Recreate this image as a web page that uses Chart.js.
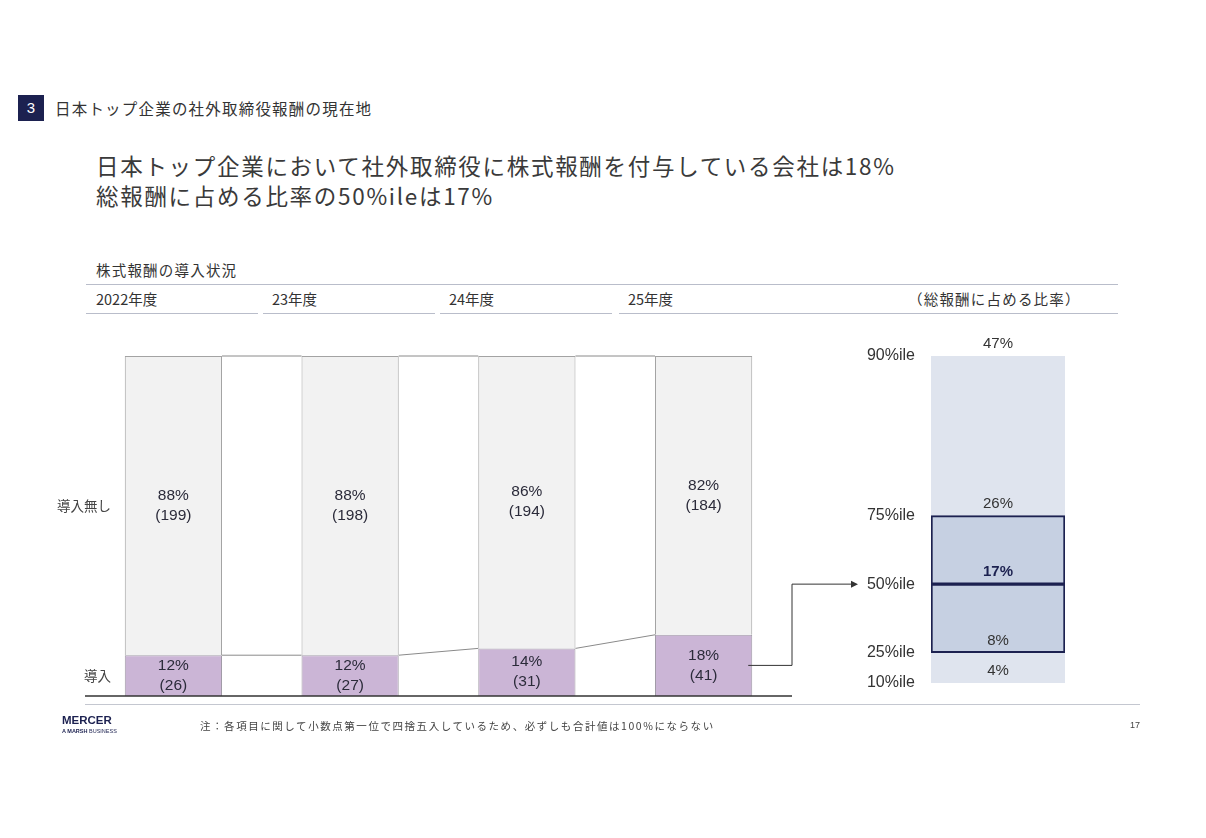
<!DOCTYPE html>
<html lang="ja">
<head>
<meta charset="utf-8">
<script src="https://cdn.jsdelivr.net/npm/chart.js@4.4.1/dist/chart.umd.min.js"></script>
<style>
  html, body { margin: 0; padding: 0; background: #fff; }
  #slide { position: relative; width: 1206px; height: 838px; overflow: hidden;
    font-family: "Noto Sans CJK JP", sans-serif; color: #333; }
  .t { position: absolute; white-space: nowrap; transform: translateY(-50%); }
  .rule { position: absolute; height: 1px; background: #b9bdca; }
  canvas { position: absolute; top: 330px; }
</style>
</head>
<body>
<div id="slide">
  <div style="position:absolute;left:18px;top:95px;width:26px;height:26px;background:#1c2150;color:#fff;
    font:15px 'Liberation Sans',sans-serif;text-align:center;line-height:26px;">3</div>
  <div class="t" style="left:55px;top:108px;font-size:15.5px;letter-spacing:1.2px;color:#333;">日本トップ企業の社外取締役報酬の現在地</div>

  <div class="t" style="left:96px;top:165px;font-size:22.5px;letter-spacing:1.7px;color:#3a3a3a;">日本トップ企業において社外取締役に株式報酬を付与している会社は18%</div>
  <div class="t" style="left:96px;top:195px;font-size:22.5px;letter-spacing:1.7px;color:#3a3a3a;">総報酬に占める比率の50%ileは17%</div>

  <div class="t" style="left:96px;top:269px;font-size:14.5px;letter-spacing:1.2px;">株式報酬の導入状況</div>
  <div class="rule" style="left:86px;top:284px;width:1032px;"></div>
  <div class="t" style="left:96px;top:298px;font-size:14.5px;">2022年度</div>
  <div class="t" style="left:272px;top:298px;font-size:14.5px;">23年度</div>
  <div class="t" style="left:449px;top:298px;font-size:14.5px;">24年度</div>
  <div class="t" style="left:628px;top:298px;font-size:14.5px;">25年度</div>
  <div class="t" style="left:908px;top:298px;font-size:14.5px;letter-spacing:1.2px;">（総報酬に占める比率）</div>
  <div class="rule" style="left:86px;top:313px;width:172px;"></div>
  <div class="rule" style="left:263px;top:313px;width:172px;"></div>
  <div class="rule" style="left:440px;top:313px;width:172px;"></div>
  <div class="rule" style="left:619px;top:313px;width:499px;"></div>

  <canvas id="adoption-chart" width="1206" height="400" style="left:0;"></canvas>
  <canvas id="ratio-chart" width="260" height="400" style="left:860px;"></canvas>

  <div class="rule" style="left:85px;top:704px;width:1055px;background:#c4c7d0;"></div>
  <div class="t" style="left:62px;top:720px;font:bold 11.5px 'Liberation Sans',sans-serif;color:#1c2150;">MERCER</div>
  <div class="t" style="left:62px;top:731px;font:5.5px 'Liberation Sans',sans-serif;color:#1c2150;"><b>A MARSH</b> BUSINESS</div>
  <div class="t" style="left:200px;top:725px;font-size:10.5px;letter-spacing:1.55px;color:#444;">注：各項目に関して小数点第一位で四捨五入しているため、必ずしも合計値は100%にならない</div>
  <div class="t" style="left:1130px;top:725px;font:9px 'Liberation Sans',sans-serif;color:#444;">17</div>
</div>

<script>
"use strict";

// 株式報酬の導入状況
const years = ["2022年度", "23年度", "24年度", "25年度"];
const adoptedPct = [12, 12, 14, 18];
const adoptedCount = [26, 27, 31, 41];
const notAdoptedPct = [88, 88, 86, 82];
const notAdoptedCount = [199, 198, 194, 184];

// 総報酬に占める比率
const pctileLabels = ["10%ile", "25%ile", "50%ile", "75%ile", "90%ile"];
const pctileValues = [4, 8, 17, 26, 47];

const NUM_FONT = "'Liberation Sans', Arial, sans-serif";
const JP_FONT = "'Noto Sans CJK JP', sans-serif";
const NAVY = "#1c2150";

// 比率チャートの数値ラベル
const ratioLabels = {
  id: "ratioLabels",
  afterDatasetsDraw(chart) {
    const ctx = chart.ctx;
    const y = chart.scales.y;
    const cx = (chart.chartArea.left + chart.chartArea.right) / 2;
    ctx.save();
    ctx.textAlign = "center";
    ctx.textBaseline = "middle";
    pctileValues.forEach(function (v, i) {
      const median = i === 2;
      ctx.font = (median ? "bold " : "") + "15px " + NUM_FONT;
      ctx.fillStyle = median ? NAVY : "#333";
      ctx.fillText(v + "%", cx, y.getPixelForValue(v) - 12);
    });
    ctx.restore();
  },
};

const ratioChart = new Chart(document.getElementById("ratio-chart"), {
  type: "bar",
  data: {
    labels: ["比率"],
    datasets: [
      {
        // 10%ile - 90%ile
        data: [[pctileValues[0], pctileValues[4]]],
        backgroundColor: "#dfe4ee",
        borderWidth: 0,
        order: 2,
      },
      {
        // 25%ile - 50%ile
        data: [[pctileValues[1], pctileValues[2]]],
        backgroundColor: "#c6d0e2",
        borderColor: NAVY,
        borderWidth: 2,
        borderSkipped: false,
        order: 1,
      },
      {
        // 50%ile - 75%ile
        data: [[pctileValues[2], pctileValues[3]]],
        backgroundColor: "#c6d0e2",
        borderColor: NAVY,
        borderWidth: 2,
        borderSkipped: false,
        order: 1,
      },
    ],
  },
  options: {
    responsive: false,
    animation: false,
    layout: { padding: { left: 1, right: 55, top: 26, bottom: 47 } },
    datasets: {
      bar: { grouped: false, barPercentage: 1, categoryPercentage: 1 },
    },
    scales: {
      x: { display: false },
      y: {
        min: pctileValues[0],
        max: pctileValues[4],
        grid: { display: false, drawTicks: false },
        border: { display: false },
        afterFit: function (scale) {
          scale.width = 70;
        },
        afterBuildTicks: function (scale) {
          scale.ticks = pctileValues.map(function (v) {
            return { value: v };
          });
        },
        ticks: {
          padding: 16,
          color: "#333",
          font: { family: NUM_FONT, size: 16 },
          callback: function (value) {
            return pctileLabels[pctileValues.indexOf(value)];
          },
        },
      },
    },
    plugins: {
      legend: { display: false },
      tooltip: { enabled: false },
    },
  },
  plugins: [ratioLabels],
});

// 棒グラフの連結線・ラベル・矢印
const adoptionDecor = {
  id: "adoptionDecor",
  afterDatasetsDraw(chart) {
    const ctx = chart.ctx;
    const area = chart.chartArea;
    const metas = [chart.getDatasetMeta(0), chart.getDatasetMeta(1)];
    ctx.save();

    // 連結線
    ctx.strokeStyle = "#8a8a8a";
    ctx.lineWidth = 1;
    metas.forEach(function (meta) {
      for (let i = 0; i < meta.data.length - 1; i++) {
        const a = meta.data[i];
        const b = meta.data[i + 1];
        ctx.beginPath();
        ctx.moveTo(a.x + a.width / 2, a.y);
        ctx.lineTo(b.x - b.width / 2, b.y);
        ctx.stroke();
      }
    });

    // ベースライン
    const y0 = chart.scales.y.getPixelForValue(0);
    ctx.strokeStyle = "#333";
    ctx.lineWidth = 1.5;
    ctx.beginPath();
    ctx.moveTo(area.left, y0);
    ctx.lineTo(area.right, y0);
    ctx.stroke();

    // 数値ラベル
    ctx.textAlign = "center";
    ctx.textBaseline = "middle";
    ctx.fillStyle = "#2b2b3a";
    ctx.font = "15.5px " + NUM_FONT;
    metas.forEach(function (meta, d) {
      const ds = chart.data.datasets[d];
      meta.data.forEach(function (bar, i) {
        const cy = (bar.y + bar.base) / 2;
        ctx.fillText(ds.data[i] + "%", bar.x, cy - 10);
        ctx.fillText("(" + ds.counts[i] + ")", bar.x, cy + 10);
      });
    });

    // 行ラベル
    ctx.textAlign = "right";
    ctx.font = "13.5px " + JP_FONT;
    ctx.fillStyle = "#444";
    metas.forEach(function (meta, d) {
      const bar = meta.data[0];
      ctx.fillText(chart.data.datasets[d].label, 111, (bar.y + bar.base) / 2);
    });

    // 矢印 (25年度 → 50%ile)
    const last = metas[0].data[metas[0].data.length - 1];
    const sy = (last.y + last.base) / 2;
    const ty = ratioChart.scales.y.getPixelForValue(pctileValues[2]);
    const tx = 858;
    ctx.strokeStyle = "#333";
    ctx.lineWidth = 1;
    ctx.beginPath();
    ctx.moveTo(last.x + last.width / 2 - 4, sy);
    ctx.lineTo(area.right, sy);
    ctx.lineTo(area.right, ty);
    ctx.lineTo(tx - 6, ty);
    ctx.stroke();
    ctx.fillStyle = "#333";
    ctx.beginPath();
    ctx.moveTo(tx, ty);
    ctx.lineTo(tx - 7, ty - 3.5);
    ctx.lineTo(tx - 7, ty + 3.5);
    ctx.closePath();
    ctx.fill();

    ctx.restore();
  },
};

new Chart(document.getElementById("adoption-chart"), {
  type: "bar",
  data: {
    labels: years,
    datasets: [
      {
        label: "導入",
        data: adoptedPct,
        counts: adoptedCount,
        backgroundColor: "#cbb5d6",
        borderColor: "#a09aa6",
        borderWidth: 1,
      },
      {
        label: "導入無し",
        data: notAdoptedPct,
        counts: notAdoptedCount,
        backgroundColor: "#f2f2f2",
        borderColor: "#a3a3a3",
        borderWidth: 1,
      },
    ],
  },
  options: {
    responsive: false,
    animation: false,
    layout: { padding: { left: 85, right: 414, top: 26, bottom: 34 } },
    datasets: {
      bar: { categoryPercentage: 1, barPercentage: 0.55 },
    },
    scales: {
      x: { stacked: true, display: false },
      y: { stacked: true, display: false, min: 0, max: 100 },
    },
    plugins: {
      legend: { display: false },
      tooltip: { enabled: false },
    },
  },
  plugins: [adoptionDecor],
});
</script>
</body>
</html>
